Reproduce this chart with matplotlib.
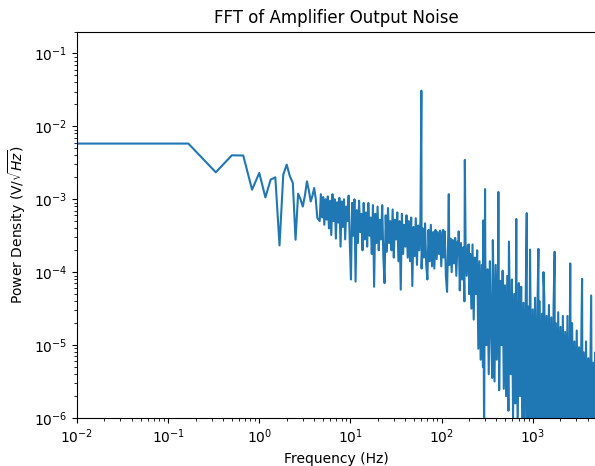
import numpy as np
import matplotlib.pyplot as plt

# lowest bins (df = 1/6 Hz), DC first; values as log10(V/sqrt(Hz))
low_freq = np.arange(0, 27) / 6
low_log = [-2.25, -2.236, -2.63, -2.397, -2.40, -2.868, -2.639, -2.974, -2.73,
           -2.70, -3.633, -2.662, -2.525, -2.685, -2.776, -3.555, -2.923, -3.00,
           -3.10, -2.95, -2.754, -2.88, -3.03, -2.95, -2.845, -3.00, -3.257]

band_freq = np.geomspace(4.6, 5000, 240)
band_log = [
    -3.30, -2.93, -3.25, -2.97, -3.35, -3.00, -3.28, -2.96, -3.40, -3.02,
    -3.49, -2.93, -3.30, -3.00, -3.54, -3.04, -3.32, -2.98, -3.65, -3.03,
    -3.38, -3.00, -3.55, -3.10, -3.30, -2.95, -3.60, -4.10, -3.05, -3.50,
    -3.00, -4.13, -3.15, -3.60, -3.02, -3.45, -3.20, -3.70, -3.05, -3.55,
    -3.18, -3.65, -3.05, -3.50, -3.25, -3.75, -3.08, -4.20, -3.20, -3.60,
    -3.10, -3.70, -3.28, -3.55, -3.08, -3.80, -4.15, -3.22, -3.72, -3.12,
    -3.60, -3.30, -3.70, -3.14, -3.80, -3.28, -3.55, -3.18, -3.85, -3.30,
    -4.24, -3.20, -3.75, -3.35, -3.65, -3.22, -3.80, -3.30, -3.85, -3.25,
    -4.19, -3.38, -3.78, -3.26, -3.90, -3.36, -3.70, -3.28, -3.95, -3.40,
    -3.80, -3.33, -3.90, -4.10, -3.42, -3.85, -3.35, -3.92, -3.45, -3.95,
    -3.42, -3.82, -3.45, -3.75, -3.43, -3.92, -3.46, -3.80, -3.44, -4.05,
    -4.27, -3.52, -3.90, -3.54, -4.00, -3.56, -3.88, -3.53, -4.05, -3.58,
    -3.62, -4.25, -3.60, -4.10, -3.66, -4.40, -3.64, -4.05, -3.63, -4.30,
    -3.75, -4.50, -3.62, -4.65, -3.80, -4.30, -3.70, -5.05, -3.85, -5.20,
    -3.90, -5.30, -6.30, -3.75, -5.00, -3.96, -5.40, -3.85, -4.80, -5.45,
    -4.03, -5.50, -3.90, -5.20, -3.95, -5.62, -4.12, -5.00, -3.98, -5.60,
    -4.18, -5.70, -4.05, -5.90, -4.25, -5.40, -4.10, -6.00, -4.30, -5.80,
    -4.33, -6.20, -4.15, -5.70, -4.20, -6.30, -4.42, -6.10, -4.25, -6.40,
    -4.47, -6.30, -4.30, -6.50, -4.51, -6.20, -4.35, -6.40, -4.55, -6.30,
    -4.40, -6.40, -4.57, -6.30, -4.35, -6.50, -4.60, -6.30, -4.45, -6.40,
    -4.62, -6.50, -4.45, -6.40, -4.70, -6.30, -4.55, -6.50, -4.75, -6.40,
    -4.60, -6.50, -4.82, -6.40, -4.60, -6.50, -4.89, -6.30, -4.70, -6.50,
    -4.95, -6.40, -4.80, -6.50, -5.03, -6.40, -4.85, -6.50, -5.10, -6.40,
    -4.95, -6.50, -5.18, -6.40, -5.00, -6.50, -5.24, -6.40, -5.10, -6.50,
]

# mains hum lines and other peaks
spike_freq = [60, 104, 120, 154, 180, 200, 286, 300, 365, 420,
              548, 660, 860, 934, 1155, 1312, 1740, 2580, 3480, 4380]
spike_log = [-1.51, -3.42, -2.93, -3.44, -2.46, -3.62, -3.29, -2.86, -3.56, -2.90,
             -3.58, -3.27, -3.19, -3.69, -3.68, -4.00, -3.72, -3.88, -4.09, -4.32]

freq = np.concatenate([low_freq, band_freq, spike_freq])
psd = 10 ** np.concatenate([low_log, band_log, spike_log])
order = np.argsort(freq)
freq, psd = freq[order], psd[order]

fig = plt.figure(figsize=(5.95, 4.66), dpi=100)
ax = fig.add_axes([0.1294, 0.103, 0.873, 0.8294])
ax.plot(freq, psd)
ax.set_xscale('log', nonpositive='clip')
ax.set_yscale('log')
ax.set_xlim(1e-2, 5e3)
ax.set_ylim(1e-6, 0.2)
ax.set_title('FFT of Amplifier Output Noise')
ax.set_xlabel('Frequency (Hz)')
ax.set_ylabel(r'Power Density (V/$\sqrt{Hz}$)')
fig.savefig('out.png', dpi=100)
